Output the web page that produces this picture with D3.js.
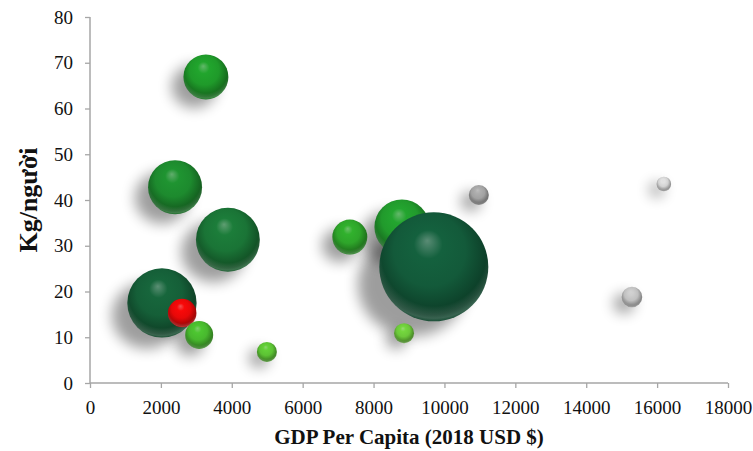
<!DOCTYPE html>
<html>
<head>
<meta charset="utf-8">
<script src="https://cdn.jsdelivr.net/npm/d3@7"></script>
<style>
  html, body { margin: 0; padding: 0; background: #fff; }
  svg { display: block; }
</style>
</head>
<body>
<svg id="chart" width="753" height="451"></svg>
<script>
// GDP per capita (2018 USD), consumption (kg per person), bubble size, colour
const gdpPerCapita = [3270, 2400, 3890, 8800, 2030, 9700, 2600, 3080, 4990, 7330, 8860, 10970, 16190, 15290];
const kgPerPerson  = [66.9, 42.8, 31.3, 34.1, 17.5, 25.4, 15.3, 10.5, 6.8, 31.9, 10.9, 41.1, 43.5, 18.8];
const bubbleSize   = [50.6, 72.9, 102, 75.6, 120, 297, 20.4, 19.6, 10, 30.6, 10, 10, 5.3, 10.6];
const bubbleColor  = ["#1f9a2a", "#1d8a2e", "#1a7436", "#219a2c", "#155f38", "#135a3a", "#e80808",
                      "#48b82e", "#5cc234", "#2ea52a", "#6cc83a", "#a2a2a2", "#d2d2d2", "#c0c0c0"];

const xTicks = d3.range(0, 18001, 2000);
const yTicks = d3.range(0, 81, 10);

const serif = "'Liberation Serif', 'Times New Roman', serif";
const svg = d3.select("#chart");
const margin = { left: 90, right: 25, top: 17, bottom: 68 };
const W = 753, H = 451;

const x = d3.scaleLinear().domain([0, 18000]).range([margin.left, W - margin.right]);
const y = d3.scaleLinear().domain([0, 80]).range([H - margin.bottom, margin.top]);
const r = d3.scaleSqrt().domain([0, 297]).range([0, 54.5]);

const defs = svg.append("defs");

// soft drop shadow below-left of each sphere
const shadow = defs.append("filter").attr("id", "shadow")
  .attr("x", "-100%").attr("y", "-100%").attr("width", "300%").attr("height", "300%");
shadow.append("feGaussianBlur").attr("stdDeviation", 7);

// bottom rim light for the sphere look
const rim = defs.append("radialGradient").attr("id", "rim")
  .attr("cx", "50%").attr("cy", "40%").attr("r", "60%")
  .attr("fx", "50%").attr("fy", "30%");
rim.append("stop").attr("offset", "80%").attr("stop-color", "#fff").attr("stop-opacity", 0);
rim.append("stop").attr("offset", "96%").attr("stop-color", "#fff").attr("stop-opacity", 0.18);
rim.append("stop").attr("offset", "100%").attr("stop-color", "#fff").attr("stop-opacity", 0.05);

const data = gdpPerCapita.map((g, i) => ({
  gdp: g, kg: kgPerPerson[i], size: bubbleSize[i], color: bubbleColor[i], i
}));

data.forEach(d => {
  const base = d3.color(d.color);
  const hi = d3.interpolateRgb(d.color, "#ffffff")(0.3);
  const g = defs.append("radialGradient").attr("id", "ball" + d.i)
    .attr("cx", "48%").attr("cy", "42%").attr("r", "60%")
    .attr("fx", "44%").attr("fy", "26%");
  g.append("stop").attr("offset", "0%").attr("stop-color", hi);
  g.append("stop").attr("offset", "22%").attr("stop-color", base.brighter(0.2));
  g.append("stop").attr("offset", "55%").attr("stop-color", base);
  g.append("stop").attr("offset", "90%").attr("stop-color", base.darker(1.2));
  g.append("stop").attr("offset", "100%").attr("stop-color", base.darker(0.6));
});

// axes
const axisColor = "#a6a6a6";
const xAxis = svg.append("g")
  .attr("transform", `translate(0,${y(0)})`)
  .call(d3.axisBottom(x).tickValues(xTicks).tickFormat(d3.format("d")).tickSizeOuter(0).tickSize(5).tickPadding(13));
const yAxis = svg.append("g")
  .attr("transform", `translate(${x(0)},0)`)
  .call(d3.axisLeft(y).tickValues(yTicks).tickFormat(d3.format("d")).tickSizeOuter(0).tickSize(5).tickPadding(12));

[xAxis, yAxis].forEach(a => {
  a.attr("font-family", null);
  a.select(".domain").attr("stroke", axisColor).attr("stroke-width", 1.5);
  a.selectAll(".tick line").attr("stroke", axisColor).attr("stroke-width", 1.3);
  a.selectAll(".tick text").attr("fill", "#111")
    .style("font-family", serif).style("font-size", "19px");
});
yAxis.select(".domain").attr("d", `M0,${y(80)}V${y(0)}`);
xAxis.select(".domain").attr("d", `M${x(0)},0H${x(18000)}`);

// shadows first, then spheres
const shadows = svg.append("g");
shadows.selectAll("ellipse").data(data).join("ellipse")
  .attr("cx", d => x(d.gdp) - r(d.size) * 0.3 - 5)
  .attr("cy", d => y(d.kg) + r(d.size) * 0.25 + 4)
  .attr("rx", d => r(d.size) * 1.0)
  .attr("ry", d => r(d.size) * 0.95)
  .attr("fill", "#000")
  .attr("opacity", 0.38)
  .attr("filter", "url(#shadow)");

const balls = svg.append("g");
const ball = balls.selectAll("g").data(data).join("g");
ball.append("circle")
  .attr("cx", d => x(d.gdp)).attr("cy", d => y(d.kg)).attr("r", d => r(d.size))
  .attr("fill", d => `url(#ball${d.i})`);
ball.append("circle")
  .attr("cx", d => x(d.gdp)).attr("cy", d => y(d.kg)).attr("r", d => r(d.size))
  .attr("fill", "url(#rim)");

// axis titles
svg.append("text")
  .attr("x", (x(0) + x(18000)) / 2).attr("y", 444)
  .attr("text-anchor", "middle")
  .style("font-family", serif)
  .style("font-weight", "bold").style("font-size", "21px").attr("fill", "#111")
  .text("GDP Per Capita (2018 USD $)");

svg.append("text")
  .attr("transform", `translate(37,${(y(0) + y(80)) / 2}) rotate(-90)`)
  .attr("text-anchor", "middle")
  .style("font-family", serif)
  .style("font-weight", "bold").style("font-size", "26px").attr("fill", "#111")
  .text("Kg/người");
</script>
</body>
</html>
